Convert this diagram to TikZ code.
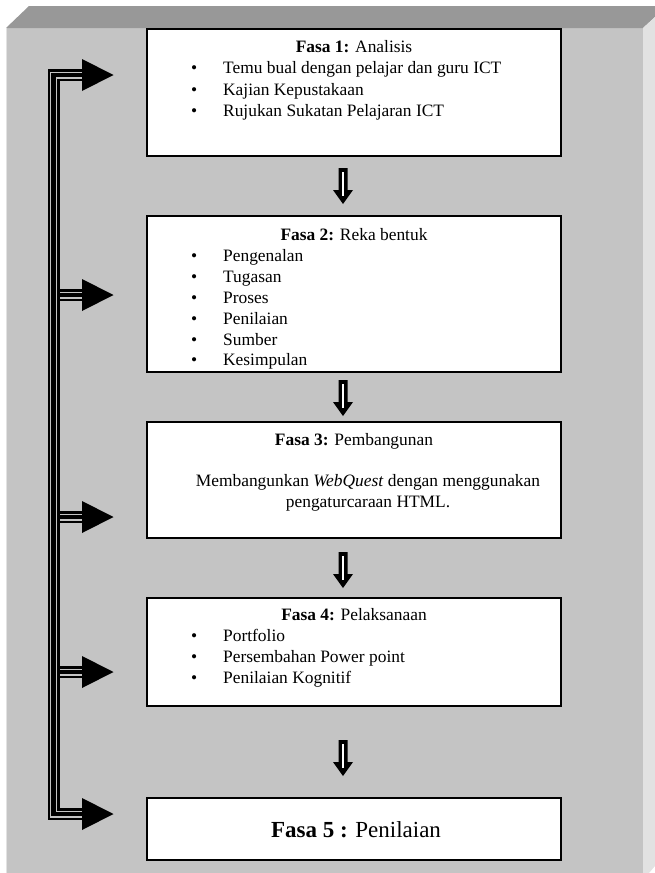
\documentclass[tikz,border=0pt]{standalone}
\usepackage{fontspec}
\setmainfont{Liberation Serif}
\definecolor{frontgray}{HTML}{C4C4C4}
\definecolor{topgray}{HTML}{989898}
\definecolor{sidegray}{HTML}{E2E2E2}
\newcommand\bul{\makebox[32pt][l]{\textbullet}}
\tikzset{
  boxstyle/.style={draw=black, line width=1.2pt, fill=white, inner sep=0pt},
  txt/.style={inner sep=0pt, font=\fontsize{17.4}{21.3}\selectfont},
  bigtxt/.style={inner sep=0pt, font=\fontsize{23}{27}\selectfont},
  triple/.style={line width=12pt, black,
    postaction={draw, line width=7pt, frontgray},
    postaction={draw, line width=4.5pt, black}},
  headtip/.style={fill=black},
  dnarr/.pic={
    \fill[black] (-4.5,0) -- (4.5,0) -- (4.5,22) -- (10,22) -- (0,36) -- (-10,22) -- (-4.5,22) -- cycle;
    \draw[white, line width=1.5pt] (0,4) -- (0,28);
  }
}
\begin{document}
\begin{tikzpicture}[x=1pt,y=-1pt]
\useasboundingbox (0,0) rectangle (655,873);
% 3D frame
\fill[frontgray] (6,28) rectangle (643,873);
\fill[topgray] (6,28) -- (29,6) -- (655,6) -- (655,17) -- (643,28) -- cycle;
\fill[sidegray] (643,28) -- (655,17) -- (655,866) -- (649,873) -- (643,873) -- cycle;
\draw[sidegray, line width=1.2pt] (6.6,28) -- (6.6,873);

% boxes
\node[boxstyle, minimum width=414pt, minimum height=127pt] (b1) at (354,92.5) {};
\node[boxstyle, minimum width=414pt, minimum height=156pt] (b2) at (354,294) {};
\node[boxstyle, minimum width=414pt, minimum height=116pt] (b3) at (354,480) {};
\node[boxstyle, minimum width=414pt, minimum height=108pt] (b4) at (354,652) {};
\node[boxstyle, minimum width=414pt, minimum height=62pt] (b5) at (354,829) {};

% box 1 text
\node[txt, anchor=base] (h1) at (354,52.5) {\textbf{Fasa 1:} Analisis};
\node[txt, anchor=base west] (i11) at (191,73.8) {\bul Temu bual dengan pelajar dan guru ICT};
\node[txt, anchor=base west] (i12) at (191,95.1) {\bul Kajian Kepustakaan};
\node[txt, anchor=base west] (i13) at (191,116.4) {\bul Rujukan Sukatan Pelajaran ICT};

% box 2 text
\node[txt, anchor=base] (h2) at (354,240.5) {\textbf{Fasa 2:} Reka bentuk};
\foreach \t [count=\k] in {Pengenalan,Tugasan,Proses,Penilaian,Sumber,Kesimpulan}
  \node[txt, anchor=base west] (i2\k) at (191,240.5+20.9*\k) {\bul \t};

% box 3 text
\node[txt, anchor=base] (h3) at (354,445.5) {\textbf{Fasa 3:} Pembangunan};
\node[txt, anchor=base] (t31) at (368,486.5) {Membangunkan \textit{WebQuest} dengan menggunakan};
\node[txt, anchor=base] (t32) at (368,507.8) {pengaturcaraan HTML.};

% box 4 text
\node[txt, anchor=base] (h4) at (354,620.5) {\textbf{Fasa 4:} Pelaksanaan};
\node[txt, anchor=base west] (i41) at (191,641.5) {\bul Portfolio};
\node[txt, anchor=base west] (i42) at (191,662.5) {\bul Persembahan Power point};
\node[txt, anchor=base west] (i43) at (191,683.5) {\bul Penilaian Kognitif};

% box 5 text
\node[bigtxt, anchor=base] (h5) at (356,837.5) {\textbf{Fasa 5 :} Penilaian};

% down arrows
\pic at (343,168) {dnarr};
\pic at (343,380) {dnarr};
\pic at (343,552) {dnarr};
\pic at (343,740) {dnarr};

% left connector
\coordinate (vx) at (53.5,0);
\coordinate (a1) at (82,75);
\coordinate (a2) at (82,295);
\coordinate (a3) at (82,517);
\coordinate (a4) at (82,672);
\coordinate (a5) at (82,814);
\foreach \a in {a2,a3,a4}
  \draw[triple] (\a -| vx) -- (\a);
\draw[triple] (a1) -- (a1 -| vx) -- (a5 -| vx) -- (a5);
\foreach \a in {a1,a2,a3,a4,a5}
  \fill[headtip] (\a) ++(0,-16) -- ++(31.5,16) -- ++(-31.5,16) -- cycle;
\end{tikzpicture}
\end{document}
